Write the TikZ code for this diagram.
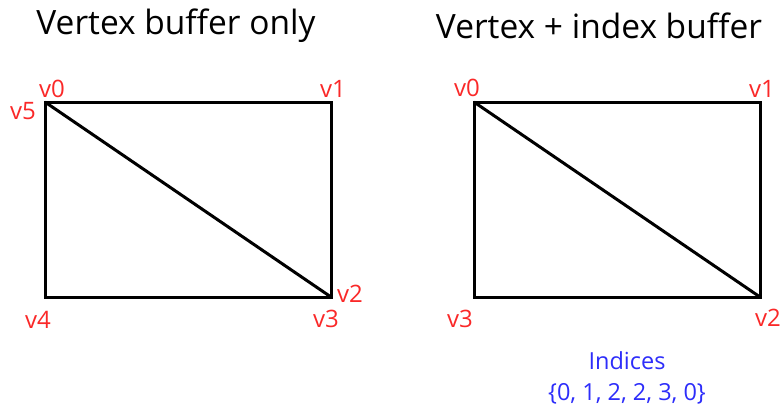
\documentclass[tikz,border=0pt]{standalone}
\usepackage{fontspec}
\setmainfont{Open Sans}
\definecolor{vred}{RGB}{250,40,40}
\definecolor{iblue}{RGB}{45,45,250}

\begin{document}
\begin{tikzpicture}[x=1pt,y=-1pt,line width=3pt,
  vlabel/.style={text=vred,font=\fontsize{24}{26}\selectfont,inner sep=0pt},
  title/.style={font=\fontsize{33.5}{36}\selectfont,inner sep=0pt}]
  \useasboundingbox (0,0) rectangle (783,408);
  % vertex buffer only
  \node[title] (t1) at (176,26){Vertex buffer only};
  \coordinate (a0) at (45,102); \coordinate (a1) at (331,102);
  \coordinate (a2) at (331,297); \coordinate (a4) at (45,297);
  \draw (a0) -- (a1) -- (a2) -- (a4) -- cycle;
  \draw (a0) -- (a2);
  \node[vlabel] (l0) at (52,89){v0};  \node[vlabel] (l5) at (23,111){v5};
  \node[vlabel] (l1) at (333,89){v1}; \node[vlabel] (l2) at (350,294){v2};
  \node[vlabel] (l3) at (326,319){v3}; \node[vlabel] (l4) at (38,320){v4};
  % vertex + index buffer
  \node[title] (t2) at (599,26){Vertex + index buffer};
  \coordinate (b0) at (474,102); \coordinate (b1) at (760,102);
  \coordinate (b2) at (760,297); \coordinate (b3) at (474,297);
  \draw (b0) -- (b1) -- (b2) -- (b3) -- cycle;
  \draw (b0) -- (b2);
  \node[vlabel] (r0) at (467,88){v0};  \node[vlabel] (r1) at (762,89){v1};
  \node[vlabel] (r2) at (768,318){v2}; \node[vlabel] (r3) at (460,319){v3};
  \node[align=center,text=iblue,font=\fontsize{23.5}{31}\selectfont,inner sep=0pt] (idx) at (627,378){Indices\\\{0, 1, 2, 2, 3, 0\}};
\end{tikzpicture}
\end{document}
